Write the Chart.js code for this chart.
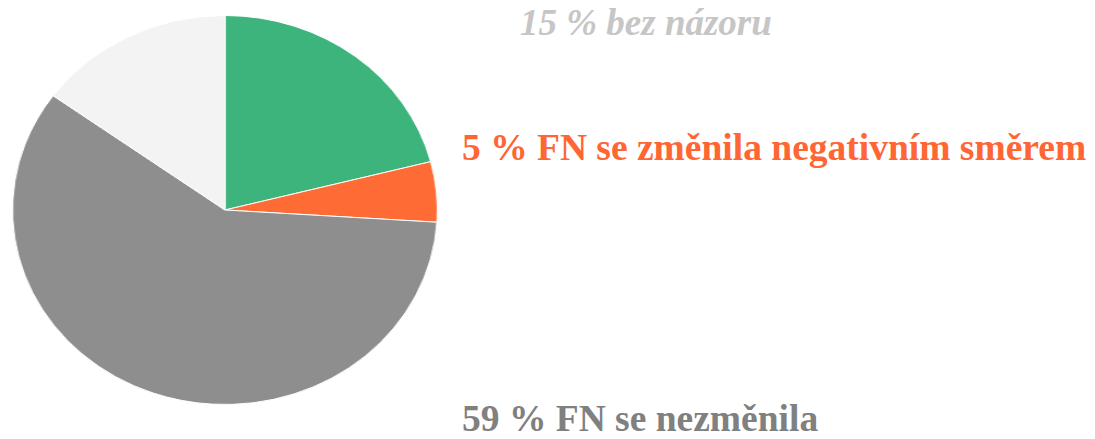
<!DOCTYPE html>
<html>
<head>
<meta charset="utf-8">
<script src="https://cdn.jsdelivr.net/npm/chart.js@4"></script>
<style>
  html, body { margin: 0; padding: 0; background: #fff; }
  body { width: 1095px; height: 439px; position: relative; overflow: hidden; font-family: "Liberation Serif", "Times New Roman", serif; }
  #pieBox { position: absolute; left: 12px; top: 15px; width: 390px; height: 390px; transform: scaleX(1.092); transform-origin: 0 0; }
  .lbl { position: absolute; font-weight: bold; white-space: nowrap; line-height: 1; }
</style>
</head>
<body>
<div id="pieBox"><canvas id="chart"></canvas></div>
<div class="lbl" id="lblNoOpinion" style="left:520px; top:4px; font-size:37px; font-style:italic; color:#c6c6c6;"></div>
<div class="lbl" id="lblNegative" style="left:462px; top:129px; font-size:37.5px; color:#ff6633;"></div>
<div class="lbl" id="lblSame" style="left:462px; top:400px; font-size:37.5px; color:#808080;"></div>
<script>
let categories = ['FN se změnila pozitivním směrem', 'FN se změnila negativním směrem', 'FN se nezměnila', 'bez názoru'];
let values = [21, 5, 59, 15];
let colors = ['#3db47c', '#ff6b35', '#8e8e8e', '#f3f3f3'];

let labelText = i => values[i] + ' % ' + categories[i];

document.getElementById('lblNoOpinion').innerText = labelText(3);
document.getElementById('lblNegative').innerText = labelText(1);
document.getElementById('lblSame').innerText = labelText(2);

let canvas = document.getElementById('chart').getContext('2d');

let chart = new Chart(canvas, {
  type: 'pie',
  data: {
    labels: categories,
    datasets: [
      {
        data: values,
        backgroundColor: colors,
        borderColor: '#ffffff',
        borderWidth: 1
      }
    ]
  },
  options: {
    responsive: true,
    maintainAspectRatio: false,
    animation: false,
    layout: { padding: 0 },
    plugins: {
      legend: { display: false },
      tooltip: { enabled: false }
    }
  }
});
</script>
</body>
</html>
